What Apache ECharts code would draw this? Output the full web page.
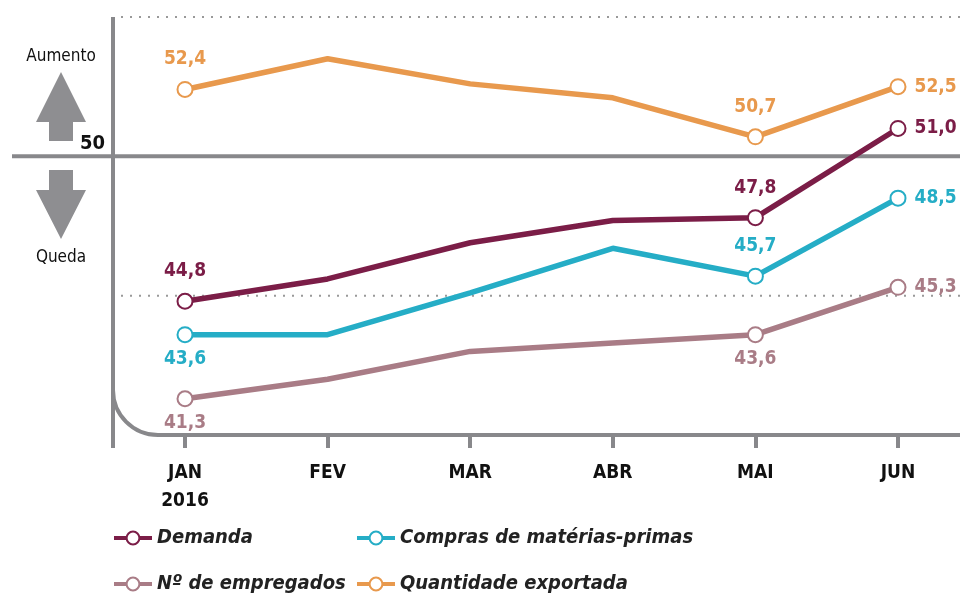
<!DOCTYPE html>
<html>
<head>
<meta charset="utf-8">
<script src="https://cdn.jsdelivr.net/npm/echarts@6/dist/echarts.min.js"></script>
<style>
  html, body { margin: 0; padding: 0; background: #fff; }
  #chart { width: 960px; height: 596px; }
</style>
</head>
<body>
<div id="chart"></div>
<script>
  const months = ['JAN', 'FEV', 'MAR', 'ABR', 'MAI', 'JUN']
  const demanda = [44.8, 45.6, 46.9, 47.7, 47.8, 51.0]
  const compras = [43.6, 43.6, 45.1, 46.7, 45.7, 48.5]
  const empregados = [41.3, 42.0, 43.0, 43.3, 43.6, 45.3]
  const exportada = [52.4, 53.5, 52.6, 52.1, 50.7, 52.5]
  const yTicks = [45, 50, 55]

  const FONT = "'Liberation Sans Narrow', 'DejaVu Sans Condensed', sans-serif"
  const GRAY = '#88888b'

  // only JAN, MAI, JUN get a marker and a value
  const marked = [0, 4, 5]

  function buildData(values, color, positions) {
    return values.map((v, i) => {
      const k = marked.indexOf(i)
      if (k < 0) return { value: v, symbol: 'none' }
      const pos = positions[k]
      return {
        value: v,
        label: {
          show: true,
          position: pos,
          distance: pos === 'top' ? 12 : pos === 'right' ? 8 : 6,
          color: color,
          fontFamily: FONT,
          fontWeight: 'bold',
          fontSize: 19,
          formatter: (p) => p.value.toFixed(1).replace('.', ','),
        },
      }
    })
  }

  function makeSeries(name, values, color, positions) {
    return {
      name: name,
      type: 'line',
      data: buildData(values, color, positions),
      symbol: 'emptyCircle',
      symbolSize: 15,
      showAllSymbol: true,
      lineStyle: { width: 5.5, color: color },
      itemStyle: { color: color, borderWidth: 2 },
      emphasis: { disabled: true },
      z: 3,
    }
  }

  // one legend per entry so the two columns line up
  function makeLegend(name, left, top) {
    return {
      left: left,
      top: top,
      itemWidth: 38,
      itemHeight: 16,
      selectedMode: false,
      data: [name],
      lineStyle: { width: 4 },
      itemStyle: { borderWidth: 2.5 },
      textStyle: {
        fontFamily: FONT,
        fontWeight: 'bold',
        fontStyle: 'italic',
        fontSize: 20,
        color: '#222',
      },
    }
  }

  const chart = echarts.init(document.getElementById('chart'))

  chart.setOption({
    animation: false,
    grid: { left: 185, right: 62, top: 17, bottom: 161 },
    legend: [
      makeLegend('Demanda', 107, 523),
      makeLegend('Compras de matérias-primas', 350, 523),
      makeLegend('Nº de empregados', 107, 569),
      makeLegend('Quantidade exportada', 350, 569),
    ],
    xAxis: {
      type: 'category',
      data: months,
      boundaryGap: false,
      axisLine: { show: false },
      axisTick: { show: true, length: 13, lineStyle: { color: GRAY, width: 4 } },
      axisLabel: {
        margin: 24,
        color: '#111',
        fontFamily: FONT,
        fontWeight: 'bold',
        fontSize: 19,
        lineHeight: 28,
        formatter: (v, i) => (i === 0 ? v + '\n2016' : v),
      },
    },
    yAxis: {
      type: 'value',
      min: 40,
      max: 55,
      interval: 5,
      axisLine: { show: false },
      axisTick: { show: false },
      axisLabel: { show: false },
      splitLine: { show: false },
    },
    series: [
      makeSeries('Demanda', demanda, '#7b1d47', ['top', 'top', 'right']),
      makeSeries('Compras de matérias-primas', compras, '#25adc6', ['bottom', 'top', 'right']),
      makeSeries('Nº de empregados', empregados, '#a97c86', ['bottom', 'bottom', 'right']),
      makeSeries('Quantidade exportada', exportada, '#e8994d', ['top', 'top', 'right']),
    ],
  })

  // frame, reference lines and arrows drawn around the grid
  const yPx = (v) => chart.convertToPixel({ yAxisIndex: 0 }, v)
  const y50 = yPx(50)
  const yBottom = yPx(40)
  const yTop = yPx(55)
  const axisX = 113
  const r = 45

  const graphic = []
  yTicks.filter((t) => t !== 50).forEach((t) => {
    graphic.push({
      type: 'line',
      shape: { x1: 121, y1: yPx(t), x2: 960, y2: yPx(t) },
      style: { stroke: '#999', lineWidth: 2, lineDash: [2, 7] },
      z: 1,
    })
  })
  graphic.push(
    {
      type: 'line',
      shape: { x1: axisX, y1: yTop, x2: axisX, y2: yBottom + 13 },
      style: { stroke: GRAY, lineWidth: 4 },
      z: 1,
    },
    {
      type: 'arc',
      shape: { cx: axisX + r, cy: yBottom - r, r: r, startAngle: Math.PI / 2, endAngle: Math.PI },
      style: { stroke: GRAY, lineWidth: 4, fill: null },
      z: 1,
    },
    {
      type: 'line',
      shape: { x1: axisX + r, y1: yBottom, x2: 960, y2: yBottom },
      style: { stroke: GRAY, lineWidth: 4 },
      z: 1,
    },
    {
      type: 'line',
      shape: { x1: 12, y1: y50, x2: 960, y2: y50 },
      style: { stroke: GRAY, lineWidth: 4 },
      z: 1,
    },
    {
      type: 'text',
      style: {
        text: '50', x: 105, y: y50 - 3, align: 'right', verticalAlign: 'bottom',
        fill: '#111', font: 'bold 20px ' + FONT,
      },
    },
    {
      type: 'polygon',
      shape: { points: [[61, 72], [86, 122], [73, 122], [73, 141], [49, 141], [49, 122], [36, 122]] },
      style: { fill: '#8e8e91' },
    },
    {
      type: 'polygon',
      shape: { points: [[49, 170], [73, 170], [73, 190], [86, 190], [61, 239], [36, 190], [49, 190]] },
      style: { fill: '#8e8e91' },
    },
    {
      type: 'text',
      style: {
        text: 'Aumento', x: 61, y: 57, align: 'center', verticalAlign: 'middle',
        fill: '#111', font: '17px ' + FONT,
      },
    },
    {
      type: 'text',
      style: {
        text: 'Queda', x: 61, y: 258, align: 'center', verticalAlign: 'middle',
        fill: '#111', font: '17px ' + FONT,
      },
    }
  )
  chart.setOption({ graphic: graphic })
</script>
</body>
</html>
